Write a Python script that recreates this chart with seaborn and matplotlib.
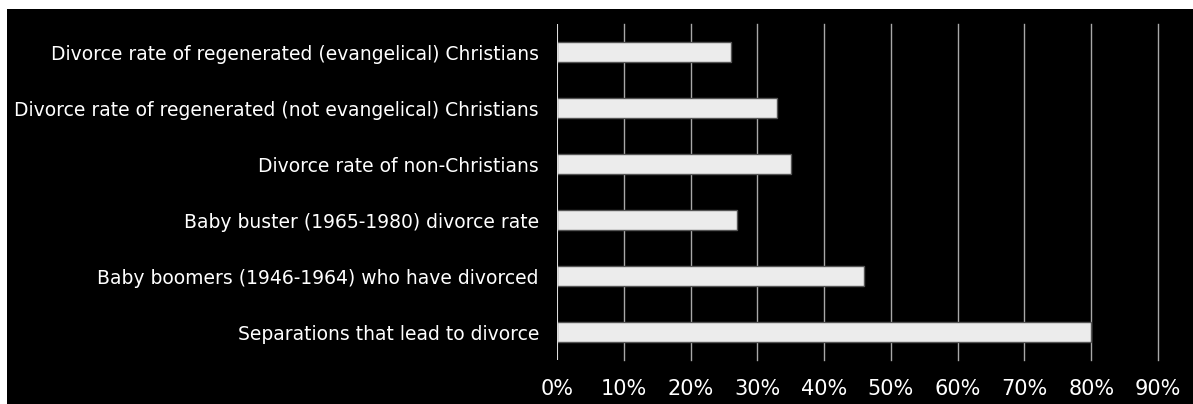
import matplotlib
matplotlib.use("Agg")
import matplotlib.pyplot as plt
import matplotlib.patches as patches
import numpy as np
import pandas as pd
import seaborn as sns

categories = ["Divorce rate of regenerated (evangelical) Christians",
              "Divorce rate of regenerated (not evangelical) Christians",
              "Divorce rate of non-Christians",
              "Baby buster (1965-1980) divorce rate",
              "Baby boomers (1946-1964) who have divorced",
              "Separations that lead to divorce"]
values = [26, 33, 35, 27, 46, 80]
x_ticks = [0, 10, 20, 30, 40, 50, 60, 70, 80, 90]
x_labels = ["0%", "10%", "20%", "30%", "40%", "50%", "60%", "70%", "80%", "90%"]

df = pd.DataFrame({"category": categories, "value": values})

W, H = 1193, 404
fig = plt.figure(figsize = (W / 100, H / 100), dpi = 100, facecolor = "white")
# black panel, leaving a thin white strip on the left and top
fig.patches.append(patches.Rectangle((7 / W, 0), 1 - 7 / W, 1 - 9 / H,
                                     transform = fig.transFigure,
                                     facecolor = "black", edgecolor = "none",
                                     zorder = -10))

ax = fig.add_axes([557 / W, 1 - 360 / H, (1158 - 557) / W, (360 - 24) / H])
ax.set_facecolor("black")

sns.barplot(data = df, x = "value", y = "category", orient = "h", ax = ax,
            color = "#ececec", edgecolor = "#555555", linewidth = 1,
            width = 0.34, saturation = 1, zorder = 3)

ax.set_xlim(0, 90)
ax.set_ylim(5.5, -0.5)
ax.set_xticks(x_ticks)
ax.set_xticklabels(x_labels)
for x in x_ticks[1:]:
    ax.axvline(x, color = "#a8a8a8", linewidth = 1, zorder = 1, clip_on = False)
ax.axvline(0, color = "#dddddd", linewidth = 1.5, zorder = 4)

for s in ax.spines.values():
    s.set_visible(False)

ax.tick_params(axis = "x", length = 0, pad = 14, labelsize = 15,
               labelcolor = "white")
ax.tick_params(axis = "y", length = 0, pad = 13, labelsize = 13.5,
               labelcolor = "white")
ax.set_xlabel("")
ax.set_ylabel("")

fig.savefig("out.png", dpi = 100, facecolor = "white")
